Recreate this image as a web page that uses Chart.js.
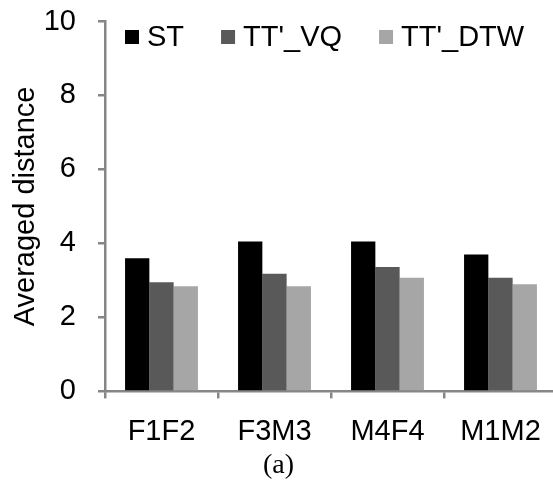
<!DOCTYPE html>
<html>
<head>
<meta charset="utf-8">
<script src="https://cdn.jsdelivr.net/npm/chart.js@4/dist/chart.umd.min.js"></script>
<style>
html,body{margin:0;padding:0;background:#fff;overflow:hidden;}
#wrap{width:562px;height:491px;}
</style>
</head>
<body>
<div id="wrap"><canvas id="c" width="562" height="491"></canvas></div>
<script>
const categories = ["F1F2", "F3M3", "M4F4", "M1M2"];
const seriesNames = ["ST", "TT'_VQ", "TT'_DTW"];
const stValues = [3.6, 4.05, 4.05, 3.7];
const vqValues = [2.95, 3.18, 3.36, 3.07];
const dtwValues = [2.84, 2.84, 3.07, 2.9];
const yTicks = [0, 2, 4, 6, 8, 10];
const seriesColors = ["#000000", "#595959", "#a6a6a6"];

const FONT = "'Liberation Sans', Arial, sans-serif";

const insideLegend = {
  id: 'insideLegend',
  afterDraw(chart) {
    const ctx = chart.ctx;
    ctx.save();
    ctx.font = "29px " + FONT;
    ctx.textBaseline = 'middle';
    let x = 125;
    const y = 37;
    chart.data.datasets.forEach(ds => {
      ctx.fillStyle = ds.backgroundColor;
      ctx.fillRect(x, y - 7, 14, 14);
      ctx.fillStyle = '#000';
      const tx = x + 22;
      ctx.fillText(ds.label, tx, y + 1);
      x = tx + ctx.measureText(ds.label).width + 37;
    });
    ctx.restore();
  }
};

new Chart(document.getElementById('c'), {
  type: 'bar',
  data: {
    labels: categories,
    datasets: [
      { label: seriesNames[0], data: stValues, backgroundColor: seriesColors[0] },
      { label: seriesNames[1], data: vqValues, backgroundColor: seriesColors[1] },
      { label: seriesNames[2], data: dtwValues, backgroundColor: seriesColors[2] }
    ]
  },
  options: {
    responsive: false,
    animation: false,
    devicePixelRatio: 1,
    layout: { padding: { left: 0, right: 5, top: 21.5, bottom: 0 } },
    datasets: { bar: { categoryPercentage: 0.645, barPercentage: 1.0, borderWidth: 0 } },
    plugins: {
      legend: { display: false },
      tooltip: { enabled: false },
      title: {
        display: true,
        position: 'bottom',
        text: '(a)',
        color: '#000',
        font: { family: "'Liberation Serif', 'Times New Roman', serif", size: 28, weight: 'normal' },
        padding: { top: 0, bottom: 9 }
      }
    },
    scales: {
      x: {
        afterFit(scale) { scale.height = 57; scale.paddingLeft = 0; scale.paddingRight = 0; },
        grid: { display: true, drawOnChartArea: false, drawTicks: true, tickLength: 7, color: '#868686', lineWidth: 2.5, offset: true },
        border: { display: true, color: '#868686', width: 2.5 },
        ticks: { color: '#000', font: { family: FONT, size: 29 }, padding: 16, maxRotation: 0, autoSkip: false }
      },
      y: {
        min: 0, max: 10,
        afterBuildTicks(scale) { scale.ticks = yTicks.map(v => ({ value: v })); },
        afterFit(scale) { scale.width = 105; scale.paddingTop = 0; scale.paddingBottom = 0; },
        grid: { display: true, drawOnChartArea: false, drawTicks: true, tickLength: 7, color: '#868686', lineWidth: 2.5 },
        border: { display: true, color: '#868686', width: 2.5 },
        ticks: { color: '#000', font: { family: FONT, size: 29 }, padding: 22 },
        title: { display: true, text: 'Averaged distance', color: '#000', font: { family: FONT, size: 29 }, padding: { top: 9, bottom: 0 } }
      }
    }
  },
  plugins: [insideLegend]
});
</script>
</body>
</html>
